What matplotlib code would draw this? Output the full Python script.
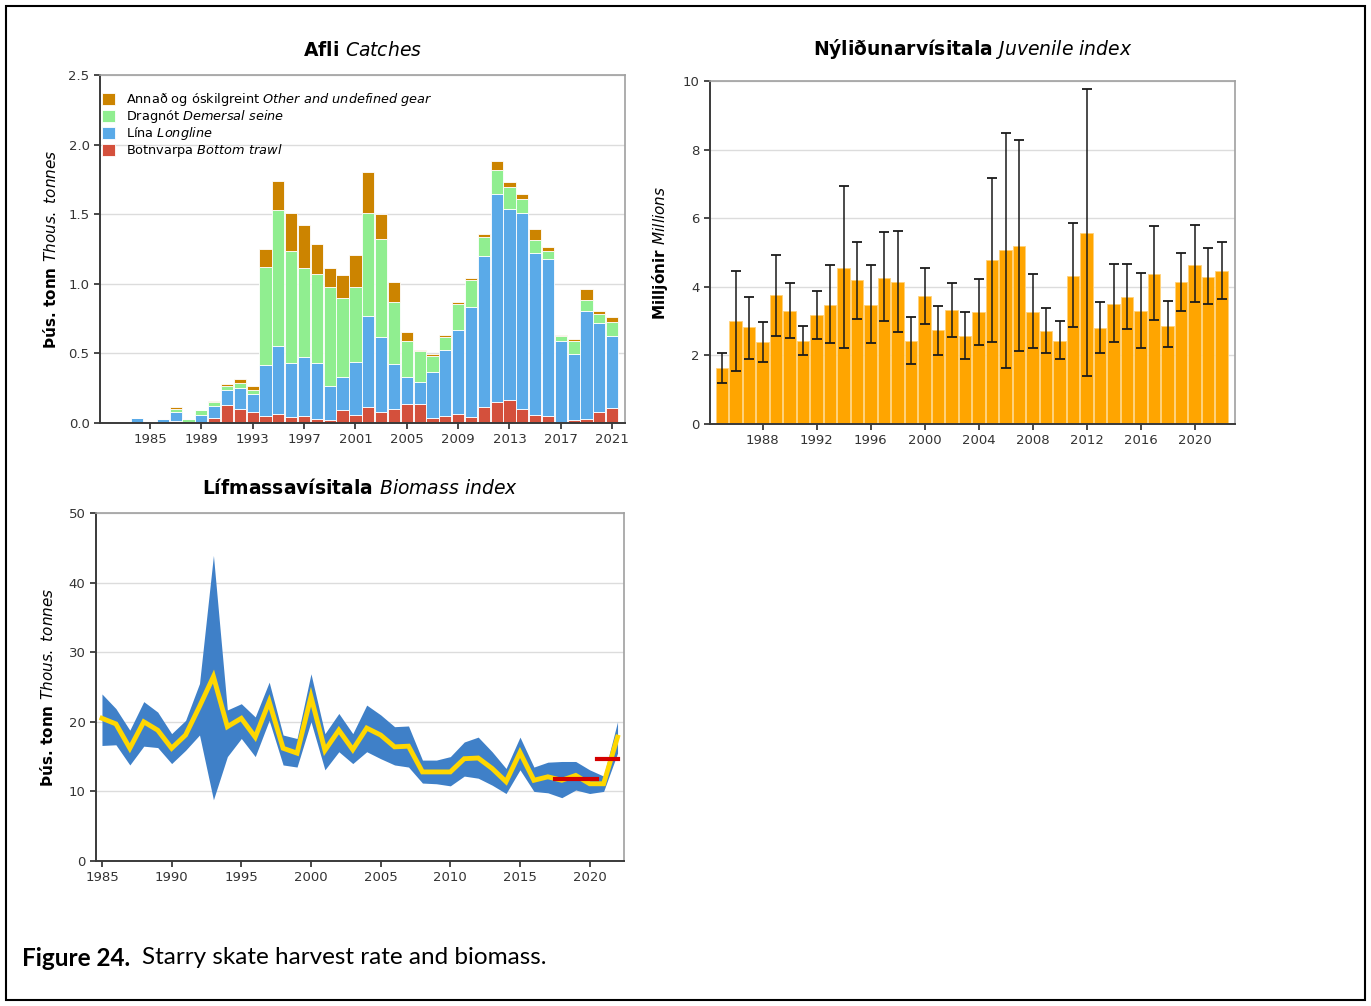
import matplotlib
matplotlib.use("Agg")
import matplotlib.pyplot as plt
from matplotlib.patches import Rectangle

plt.rcParams["font.family"] = ["DejaVu Sans"]
plt.rcParams["mathtext.fontset"] = "dejavusans"

# catches by gear, thousand tonnes
catch_years = list(range(1984, 2022))
bottom_trawl = [0.0, 0.0, 0.0, 0.012, 0.0, 0.0, 0.036, 0.133, 0.10, 0.077,
                0.053, 0.068, 0.041, 0.053, 0.031, 0.024, 0.097, 0.06, 0.114, 0.077,
                0.10, 0.14, 0.14, 0.034, 0.053, 0.063, 0.043, 0.116, 0.15, 0.162,
                0.10, 0.056, 0.051, 0.01, 0.022, 0.029, 0.077, 0.109]
longline = [0.036, 0.0, 0.031, 0.065, 0.0, 0.056, 0.084, 0.107, 0.154, 0.133,
            0.362, 0.488, 0.391, 0.423, 0.397, 0.242, 0.234, 0.38, 0.654, 0.543,
            0.325, 0.193, 0.155, 0.336, 0.469, 0.607, 0.79, 1.084, 1.497, 1.378,
            1.41, 1.164, 1.13, 0.58, 0.473, 0.775, 0.643, 0.517]
demersal_seine = [0.0, 0.005, 0.0, 0.027, 0.03, 0.036, 0.032, 0.026, 0.036, 0.03,
                  0.708, 0.974, 0.80, 0.64, 0.644, 0.71, 0.568, 0.54, 0.742, 0.70,
                  0.445, 0.257, 0.219, 0.113, 0.094, 0.185, 0.194, 0.136, 0.173, 0.156,
                  0.096, 0.094, 0.051, 0.033, 0.095, 0.078, 0.065, 0.099]
other_gear = [0.0, 0.0, 0.0, 0.010, 0.0, 0.0, 0.008, 0.017, 0.024, 0.026,
              0.127, 0.21, 0.273, 0.309, 0.213, 0.135, 0.161, 0.225, 0.29, 0.18,
              0.144, 0.062, 0.013, 0.014, 0.019, 0.015, 0.013, 0.024, 0.06, 0.038,
              0.039, 0.082, 0.031, 0.01, 0.01, 0.084, 0.022, 0.038]
catch_xticks = list(range(1985, 2022, 4))

# juvenile index, millions
juv_years = list(range(1985, 2023))
juv_index = [1.63, 2.99, 2.82, 2.38, 3.75, 3.29, 2.42, 3.17, 3.46, 4.56,
             4.20, 3.46, 4.27, 4.15, 2.42, 3.74, 2.73, 3.32, 2.57, 3.28,
             4.77, 5.07, 5.19, 3.28, 2.72, 2.43, 4.31, 5.56, 2.79, 3.50,
             3.71, 3.30, 4.37, 2.87, 4.13, 4.65, 4.28, 4.47]
juv_low = [1.21, 1.54, 1.91, 1.82, 2.57, 2.50, 2.01, 2.49, 2.35, 2.22,
           3.07, 2.35, 2.99, 2.68, 1.75, 2.93, 2.02, 2.53, 1.91, 2.30,
           2.40, 1.63, 2.12, 2.22, 2.06, 1.91, 2.82, 1.39, 2.06, 2.40,
           2.77, 2.22, 3.03, 2.24, 3.29, 3.55, 3.50, 3.64]
juv_high = [2.06, 4.47, 3.71, 2.98, 4.94, 4.10, 2.87, 3.88, 4.65, 6.95,
            5.32, 4.65, 5.59, 5.62, 3.12, 4.54, 3.45, 4.10, 3.27, 4.22,
            7.16, 8.47, 8.28, 4.36, 3.38, 3.01, 5.85, 9.76, 3.56, 4.66,
            4.66, 4.41, 5.78, 3.58, 4.98, 5.80, 5.13, 5.31]
juv_xticks = list(range(1988, 2021, 4))

# biomass index, thousand tonnes
bio_years = list(range(1985, 2023))
bio_index = [20.5, 19.7, 16.2, 20.0, 18.8, 16.2, 18.1, 22.2, 26.5, 19.3,
             20.5, 17.8, 22.9, 16.2, 15.5, 23.6, 15.9, 18.8, 16.0, 19.1,
             18.1, 16.4, 16.5, 12.8, 12.8, 12.8, 14.7, 14.8, 13.3, 11.4,
             15.6, 11.6, 12.1, 11.6, 12.3, 11.1, 11.1, 17.8]
bio_low = [16.6, 16.7, 13.8, 16.5, 16.3, 14.0, 15.9, 18.1, 8.8, 15.0,
           17.6, 15.0, 20.2, 13.8, 13.5, 20.0, 13.1, 15.7, 14.0, 15.7,
           14.7, 13.8, 13.5, 11.2, 11.1, 10.8, 12.2, 11.9, 10.9, 9.7,
           13.1, 10.0, 9.8, 9.1, 10.2, 9.7, 10.0, 15.5]
bio_high = [24.0, 21.9, 18.8, 22.9, 21.4, 18.3, 20.2, 25.5, 43.9, 21.7,
            22.6, 20.7, 25.7, 18.1, 17.6, 26.9, 18.3, 21.2, 18.3, 22.4,
            21.0, 19.3, 19.4, 14.5, 14.5, 15.0, 17.1, 17.8, 15.7, 13.3,
            17.8, 13.5, 14.2, 14.3, 14.3, 13.1, 12.2, 20.0]
ref_periods = [(2017.5, 2020.5), (2020.5, 2022.0)]
ref_levels = [11.8, 14.6]
bio_xticks = list(range(1985, 2021, 5))

TICK_SIZE = 9.5


def style_axes(ax):
    for side in ["top", "right"]:
        ax.spines[side].set_color("#a0a0a0")
        ax.spines[side].set_linewidth(1.2)
    for side in ["left", "bottom"]:
        ax.spines[side].set_color("#3a3a3a")
        ax.spines[side].set_linewidth(1.4)
    ax.tick_params(direction="out", length=4, width=1.3, colors="#3a3a3a",
                   labelsize=TICK_SIZE, labelcolor="#333333")
    ax.yaxis.grid(True, color="#dcdcdc", linewidth=1)
    ax.set_axisbelow(True)


fig = plt.figure(figsize=(13.71, 10.06), dpi=100)

# Catches
ax1 = fig.add_axes([0.0729, 0.5795, 0.383, 0.346])
b1 = [0.0] * len(catch_years)
b2 = [a + b for a, b in zip(b1, bottom_trawl)]
b3 = [a + b for a, b in zip(b2, longline)]
b4 = [a + b for a, b in zip(b3, demersal_seine)]
kw = dict(width=0.95, edgecolor="white", linewidth=0.6)
h_bt = ax1.bar(catch_years, bottom_trawl, bottom=b1, color="#d4503c", **kw)
h_ll = ax1.bar(catch_years, longline, bottom=b2, color="#5aaae8", **kw)
h_ds = ax1.bar(catch_years, demersal_seine, bottom=b3, color="#90ee90", **kw)
h_ot = ax1.bar(catch_years, other_gear, bottom=b4, color="#cc8400", **kw)
ax1.set_xlim(1981.1, 2022.0)
ax1.set_ylim(0, 2.5)
ax1.set_yticks([0, 0.5, 1.0, 1.5, 2.0, 2.5], ["0.0", "0.5", "1.0", "1.5", "2.0", "2.5"])
ax1.set_xticks(catch_xticks)
style_axes(ax1)
ax1.set_title(r"Afli $\it{Catches}$", fontsize=13.5, fontweight="bold", pad=14)
ax1.set_ylabel(r"Þús. tonn $\it{Thous.\ tonnes}$", fontsize=11, fontweight="bold", labelpad=7)
ax1.legend([h_ot, h_ds, h_ll, h_bt],
           [r"Annað og óskilgreint $\it{Other\ and\ undefined\ gear}$",
            r"Dragnót $\it{Demersal\ seine}$",
            r"Lína $\it{Longline}$",
            r"Botnvarpa $\it{Bottom\ trawl}$"],
           loc="upper left", bbox_to_anchor=(-0.01, 0.975), frameon=False,
           fontsize=9.3, handlelength=1.0, handleheight=1.0, labelspacing=0.0,
           handletextpad=0.8, borderaxespad=0.2)

# Juvenile index
ax2 = fig.add_axes([0.5179, 0.5785, 0.383, 0.341])
ax2.bar(juv_years, juv_index, width=0.92, color="#ffa500", edgecolor="#ffd27a", linewidth=0.6)
err_lo = [v - l for v, l in zip(juv_index, juv_low)]
err_hi = [h - v for v, h in zip(juv_index, juv_high)]
ax2.errorbar(juv_years, juv_index, yerr=[err_lo, err_hi], fmt="none",
             ecolor="#1a1a1a", elinewidth=1.1, capsize=3.5, capthick=1.3)
ax2.set_xlim(1984.1, 2023.0)
ax2.set_ylim(0, 10)
ax2.set_yticks([0, 2, 4, 6, 8, 10])
ax2.set_xticks(juv_xticks)
style_axes(ax2)
ax2.set_title(r"Nýliðunarvísitala $\it{Juvenile\ index}$", fontsize=13.5,
              fontweight="bold", pad=19)
ax2.set_ylabel(r"Milljónir $\it{Millions}$", fontsize=11, fontweight="bold", labelpad=9)

# Biomass index
ax3 = fig.add_axes([0.0700, 0.1441, 0.385, 0.346])
ax3.fill_between(bio_years, bio_low, bio_high, color="#3f80c8", linewidth=0)
ax3.plot(bio_years, bio_index, color="#ffd700", linewidth=3.5, solid_joinstyle="miter")
for (x0, x1), lvl in zip(ref_periods, ref_levels):
    ax3.plot([x0, x1], [lvl, lvl], color="#d40000", linewidth=3)
ax3.set_xlim(1984.57, 2022.45)
ax3.set_ylim(0, 50)
ax3.set_yticks([0, 10, 20, 30, 40, 50])
ax3.set_xticks(bio_xticks)
style_axes(ax3)
ax3.set_title(r"Lífmassavísitala $\it{Biomass\ index}$", fontsize=13.5,
              fontweight="bold", pad=14)
ax3.set_ylabel(r"Þús. tonn $\it{Thous.\ tonnes}$", fontsize=11, fontweight="bold", labelpad=9)

# caption and frame
cap_y = 1 - 958 / 1006
t_bold = fig.text(22 / 1371, cap_y, "Figure 24.", fontsize=17.5, fontweight="bold",
                  family="Lato", va="center", ha="left")
renderer = fig.canvas.get_renderer()
x_end = t_bold.get_window_extent(renderer).x1
fig.text((x_end + 12) / 1371, cap_y, "Starry skate harvest rate and biomass.",
         fontsize=17.5, family="Lato", va="center", ha="left")
fig.patches.append(Rectangle((6 / 1371, 6 / 1006), 1 - 12 / 1371, 1 - 12 / 1006,
                             transform=fig.transFigure, fill=False,
                             edgecolor="black", linewidth=1.5))

fig.savefig("out.png", dpi=100)
